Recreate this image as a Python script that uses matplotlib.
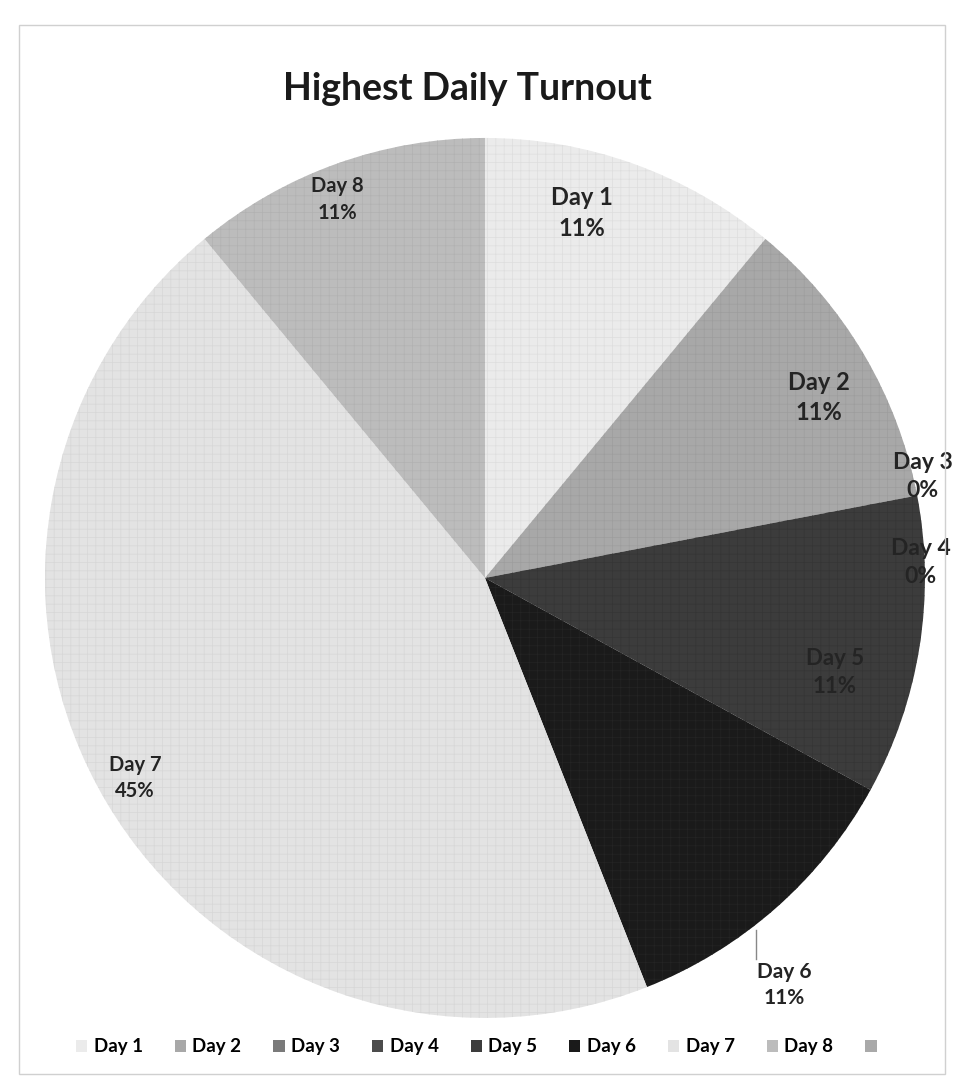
import matplotlib
matplotlib.use("Agg")
import matplotlib.pyplot as plt
from matplotlib.patches import Patch, Rectangle

plt.rcParams['font.family'] = ['Lato', 'DejaVu Sans']
plt.rcParams['hatch.linewidth'] = 0.5

# data
days = ['Day 1', 'Day 2', 'Day 3', 'Day 4', 'Day 5', 'Day 6', 'Day 7', 'Day 8']
shares = [11, 11, 0, 0, 11, 11, 45, 11]
pct_labels = ['11%', '11%', '0%', '0%', '11%', '11%', '45%', '11%']
colors = ['#ebebeb', '#a8a8a8', '#7a7a7a', '#4c4c4c', '#3c3c3c', '#1a1a1a', '#e3e3e3', '#bcbcbc']
hatch_cols = ['#dedede', '#9d9d9d', '#6c6c6c', '#444444', '#353535', '#242424', '#d7d7d7', '#b1b1b1']
extra_legend_color = '#a9a9a9'

# label spots (pie units) and sizes, mimicking the Excel placement on the scan
label_xy = [(0.22, 0.83), (0.76, 0.41), (0.995, 0.23), (0.99, 0.035),
            (0.795, -0.215), (0.68, -0.925), (-0.795, -0.455), (-0.335, 0.86)]
label_size = [17, 17, 16.5, 16.5, 16, 15, 14.5, 14.5]

fig = plt.figure(figsize=(9.59, 10.87), dpi=100)
fig.patch.set_facecolor('white')

# faint frame of the scanned chart area
fig.patches.append(Rectangle((0.02, 0.012), 0.965, 0.965, transform=fig.transFigure,
                             fill=False, edgecolor='#d0d0d0', linewidth=1.0))

ax = fig.add_axes([0.0469, 0.0635, 0.9176, 0.8096])
wedges, _ = ax.pie(shares, colors=colors, startangle=90, counterclock=False,
                   radius=1.0, wedgeprops=dict(linewidth=0))
for w, hc in zip(wedges, hatch_cols):
    w.set_hatch('++')
    w.set_edgecolor(hc)
    w.set_linewidth(0)

for i, (x, y) in enumerate(label_xy):
    ax.text(x, y, f'{days[i]}\n{pct_labels[i]}', ha='center', va='center',
            fontsize=label_size[i], fontweight='bold', color='#242424', linespacing=1.4)

# leader line for Day 6
ax.plot([0.617, 0.617], [-0.80, -0.865], color='#888888', linewidth=1)

ax.set_xlim(-1, 1)
ax.set_ylim(-1, 1)
ax.set_aspect('equal')
ax.axis('off')

fig.text(0.487, 0.918, 'Highest Daily Turnout', ha='center', va='center',
         fontsize=27, fontweight='bold', color='#1a1a1a')

handles = [Patch(facecolor=c, edgecolor='none') for c in colors]
handles.append(Patch(facecolor=extra_legend_color, edgecolor='none'))
fig.legend(handles, days + [''], loc='center', bbox_to_anchor=(0.50, 0.037),
           ncol=9, frameon=False, handlelength=0.6, handleheight=0.6,
           handletextpad=0.35, columnspacing=1.7,
           prop=dict(family='Lato', weight='bold', size=13.5))

fig.savefig('out.png', dpi=100, facecolor='white')
